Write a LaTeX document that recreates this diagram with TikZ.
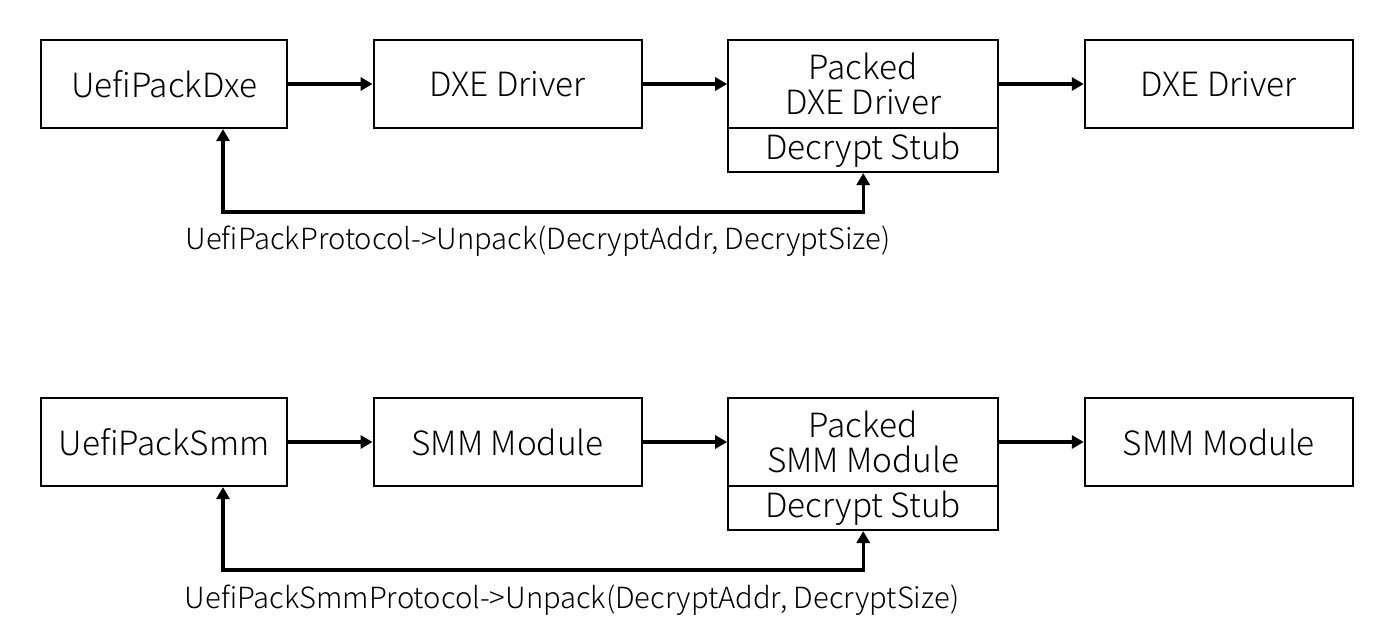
\documentclass[tikz,border=0pt]{standalone}
\usepackage{fontspec}
\setmainfont{Noto Sans CJK JP}[UprightFont=* Light]
\usetikzlibrary{positioning, arrows.meta}

\begin{document}
\begin{tikzpicture}[
     node distance = 1.69cm and 1.69cm,
        box/.style = {rectangle, draw, line width=1.2pt, minimum width=5.36cm,
                      minimum height=1.76cm, inner sep=0pt,
                      font=\fontsize{19}{20}\selectfont, align=center},
       stub/.style = {box, minimum width=5.40cm, minimum height=0.88cm},
       flow/.style = {line width=1.8pt, -{Triangle[length=0.24cm, width=0.26cm]}},
       back/.style = {line width=1.8pt, {Triangle[length=0.24cm, width=0.26cm]}-{Triangle[length=0.24cm, width=0.26cm]}},
       call/.style = {font=\fontsize{16.6}{18}\selectfont, inner sep=0pt}
                        ]
\useasboundingbox (0,0) rectangle (27.6,-12.82);
% DXE row
\node (dxe)[box, minimum width=4.92cm] at (3.28,-1.68) {UefiPackDxe};
\node (drvA)[box, right =of dxe] {DXE Driver};
\node (packA)[box, minimum width=5.40cm, right =of drvA] {Packed\\DXE Driver};
\node (stubA)[stub, below =-1.2pt of packA] {Decrypt Stub};
\node (outA)[box, right =of packA] {DXE Driver};
\coordinate (backA) at ([xshift=1.18cm]dxe.south);
\coordinate (turnA) at (stubA.south |- 0,-4.24);
\node (callA)[call] at (10.76,-4.82) {UefiPackProtocol->Unpack(DecryptAddr, DecryptSize)};
\draw[flow] (dxe) to (drvA);
\draw[flow] (drvA) to (packA);
\draw[flow] (packA) to (outA);
\draw[back] (backA) |- (turnA) -- (stubA.south);
% SMM row
\node (smm)[box, minimum width=4.92cm] at (3.28,-8.84) {UefiPackSmm};
\node (drvB)[box, right =of smm] {SMM Module};
\node (packB)[box, minimum width=5.40cm, right =of drvB] {Packed\\SMM Module};
\node (stubB)[stub, below =-1.2pt of packB] {Decrypt Stub};
\node (outB)[box, right =of packB] {SMM Module};
\coordinate (backB) at ([xshift=1.18cm]smm.south);
\coordinate (turnB) at (stubB.south |- 0,-11.4);
\node (callB)[call] at (11.44,-12.0) {UefiPackSmmProtocol->Unpack(DecryptAddr, DecryptSize)};
\draw[flow] (smm) to (drvB);
\draw[flow] (drvB) to (packB);
\draw[flow] (packB) to (outB);
\draw[back] (backB) |- (turnB) -- (stubB.south);
\end{tikzpicture}
\end{document}
